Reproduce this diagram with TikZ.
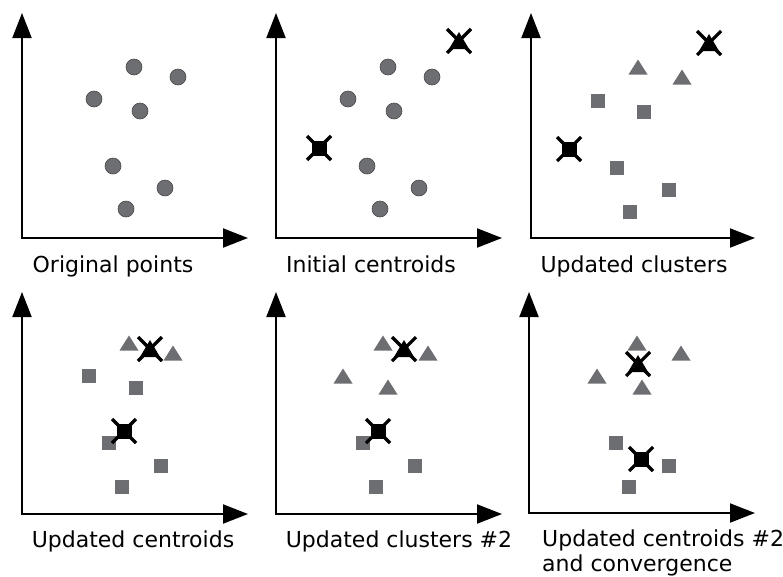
\documentclass[tikz,border=0pt]{standalone}
\usepackage{fontspec}
\setmainfont{DejaVu Sans}
\usetikzlibrary{arrows.meta}

\definecolor{markgray}{HTML}{6D6E71}
\definecolor{edgegray}{HTML}{4A4A4C}

\tikzset{
  axis/.style={line width=2pt, line join=miter,
    {Triangle[length=25pt,width=19pt]}-{Triangle[length=25pt,width=19pt]}},
  dot/.style={circle, fill=markgray, draw=edgegray, line width=0.6pt,
    minimum size=16pt, inner sep=0pt},
  sqmark/.style={rectangle, fill=markgray, minimum size=14pt, inner sep=0pt},
  trimark/.style={fill=markgray},
  cent/.style={rectangle, fill=black, minimum size=15pt, inner sep=0pt},
  centcross/.style={draw=black, line width=3.2pt},
  lbl/.style={font=\fontsize{22}{26}\selectfont, inner sep=0pt},
}

% a triangle marker centred on a named coordinate
\newcommand\tri[2]{%
  \coordinate (#1) at (#2);
  \fill[trimark] (#1) +(-9.5,7.5) -- +(9.5,7.5) -- +(0,-7.5) -- cycle;}
% the cross drawn over every centroid
\newcommand\crossat[1]{%
  \draw[centcross] (#1) +(-12,-12) -- +(12,12)
                   (#1) +(-12,12) -- +(12,-12);}
% centroid of the square cluster: black square with a cross
\newcommand\centroid[2]{%
  \node[cent] (#1) at (#2) {};
  \crossat{#1.center}}
% centroid of the triangle cluster: black triangle with a cross
\newcommand\tricentroid[2]{%
  \coordinate (#1) at (#2);
  \fill[black] (#1) +(-10,8) -- +(10,8) -- +(0,-9) -- cycle;
  \crossat{#1}}
% a pair of axes
\newcommand\axes[4]{%
  \coordinate (o#1) at (#2);
  \coordinate (y#1) at (#3);
  \coordinate (x#1) at (#4);
  \draw[axis] (y#1) -- (o#1) -- (x#1);}

\begin{document}
\begin{tikzpicture}[x=1pt,y=-1pt]
\useasboundingbox (0,0) rectangle (783,576);

% ---- Original points
\axes{1}{22,238}{22,13}{248,238}
\node[dot] (a1) at (134,67) {};
\node[dot] (a2) at (178,77) {};
\node[dot] (a3) at (94,99) {};
\node[dot] (a4) at (140,111) {};
\node[dot] (a5) at (113,166) {};
\node[dot] (a6) at (165,188) {};
\node[dot] (a7) at (126,209) {};
\node[lbl, anchor=base] (l1) at (113,272) {Original points};

% ---- Initial centroids
\axes{2}{276,238}{276,13}{502,238}
\node[dot] (b1) at (388,67) {};
\node[dot] (b2) at (432,77) {};
\node[dot] (b3) at (348,99) {};
\node[dot] (b4) at (394,111) {};
\node[dot] (b5) at (367,166) {};
\node[dot] (b6) at (419,188) {};
\node[dot] (b7) at (380,209) {};
\tricentroid{bc1}{459,41}
\centroid{bc2}{319,148}
\node[lbl, anchor=base] (l2) at (371,272) {Initial centroids};

% ---- Updated clusters
\axes{3}{531,238}{531,13}{755,238}
\tri{c1}{638,67}
\tri{c2}{682,77}
\node[sqmark] (c3) at (598,101) {};
\node[sqmark] (c4) at (644,112) {};
\node[sqmark] (c5) at (617,168) {};
\node[sqmark] (c6) at (669,190) {};
\node[sqmark] (c7) at (630,212) {};
\tricentroid{cc1}{709,43}
\centroid{cc2}{569,149}
\node[lbl, anchor=base] (l3) at (634,272) {Updated clusters};

% ---- Updated centroids
\axes{4}{22,514}{22,292}{248,514}
\tri{d1}{129,343}
\tri{d2}{173,353}
\node[sqmark] (d3) at (89,376) {};
\node[sqmark] (d4) at (136,388) {};
\node[sqmark] (d5) at (109,443) {};
\node[sqmark] (d6) at (161,466) {};
\node[sqmark] (d7) at (122,487) {};
\tricentroid{dc1}{150,349}
\centroid{dc2}{124,431}
\node[lbl, anchor=base] (l4) at (133,547) {Updated centroids};

% ---- Updated clusters #2
\axes{5}{276,514}{276,292}{502,514}
\tri{e1}{383,343}
\tri{e2}{428,353}
\tri{e3}{343,376}
\tri{e4}{388,387}
\node[sqmark] (e5) at (363,443) {};
\node[sqmark] (e6) at (415,466) {};
\node[sqmark] (e7) at (376,487) {};
\tricentroid{ec1}{404,349}
\centroid{ec2}{378,431}
\node[lbl, anchor=base] (l5) at (399,547) {Updated clusters \#2};

% ---- Updated centroids #2 and convergence
\axes{6}{529,513}{529,292}{755,513}
\tri{f1}{637,343}
\tri{f2}{681,353}
\tri{f3}{597,376}
\tri{f4}{642,387}
\node[sqmark] (f5) at (616,443) {};
\node[sqmark] (f6) at (669,466) {};
\node[sqmark] (f7) at (629,487) {};
\tricentroid{fc1}{638,364}
\centroid{fc2}{641,459}
\node[lbl, anchor=base west] (l6a) at (542,546) {Updated centroids \#2};
\node[lbl, anchor=base west] (l6b) at (542,571) {and convergence};
\end{tikzpicture}
\end{document}
